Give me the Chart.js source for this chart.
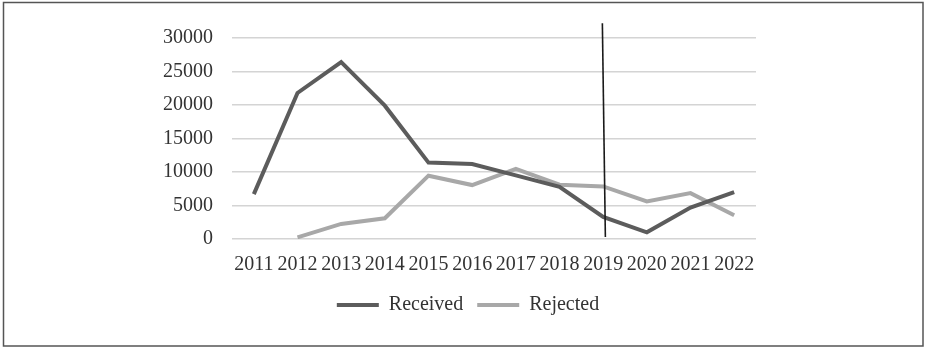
<!DOCTYPE html>
<html>
<head>
<meta charset="utf-8">
<script src="https://cdn.jsdelivr.net/npm/chart.js@4.4.0/dist/chart.umd.min.js"></script>
<style>
  html, body { margin: 0; padding: 0; background: #fff; }
  #wrap { position: absolute; left: 0; top: 0; width: 931px; height: 353px; }
</style>
</head>
<body>
<div id="wrap"><canvas id="c" width="931" height="353"></canvas></div>
<script>
const years = ['2011','2012','2013','2014','2015','2016','2017','2018','2019','2020','2021','2022'];
const received = [6700, 21800, 26400, 19900, 11400, 11200, 9500, 7800, 3300, 1000, 4700, 7000];
const rejected = [null, 250, 2250, 3100, 9450, 8050, 10450, 8100, 7850, 5600, 6850, 3550];
const yTicks = [0, 5000, 10000, 15000, 20000, 25000, 30000];
const markerYear = '2019';
const markerRange = [300, 32200];

const FONT = '"Liberation Serif", "Times New Roman", serif';

const borderPlugin = {
  id: 'frame',
  beforeDraw(chart) {
    const ctx = chart.ctx;
    ctx.save();
    ctx.fillStyle = '#fff';
    ctx.fillRect(0, 0, chart.width, chart.height);
    ctx.strokeStyle = '#555';
    ctx.lineWidth = 1.5;
    ctx.strokeRect(3.5, 2.5, 919.5, 343.5);
    ctx.restore();
  }
};

const legendShift = {
  id: 'legendShift',
  afterLayout(chart) {
    if (chart.legend) { chart.legend.left += 10; chart.legend.right += 10; }
  }
};

const markerPlugin = {
  id: 'marker',
  afterDatasetsDraw(chart) {
    const x = chart.scales.x.getPixelForValue(years.indexOf(markerYear));
    const y = chart.scales.y;
    const ctx = chart.ctx;
    ctx.save();
    ctx.strokeStyle = '#1a1a1a';
    ctx.lineWidth = 1.6;
    ctx.beginPath();
    ctx.moveTo(x - 0.8, y.getPixelForValue(markerRange[1]));
    ctx.lineTo(x + 2.2, y.getPixelForValue(markerRange[0]));
    ctx.stroke();
    ctx.restore();
  }
};

new Chart(document.getElementById('c'), {
  type: 'line',
  data: {
    labels: years,
    datasets: [
      { label: 'Received', data: received, borderColor: '#5c5c5c', backgroundColor: '#5c5c5c',
        borderWidth: 4, pointRadius: 0, tension: 0, spanGaps: false },
      { label: 'Rejected', data: rejected, borderColor: '#a8a8a8', backgroundColor: '#a8a8a8',
        borderWidth: 4, pointRadius: 0, tension: 0, spanGaps: false }
    ]
  },
  options: {
    responsive: false,
    animation: false,
    devicePixelRatio: 1,
    layout: { padding: { left: 160, right: 175, top: 38, bottom: 28 } },
    plugins: {
      tooltip: { enabled: false },
      legend: {
        position: 'bottom',
        labels: {
          font: { family: FONT, size: 20 },
          color: '#333',
          boxWidth: 42,
          boxHeight: 4,
          padding: 14,
          generateLabels(chart) {
            return chart.data.datasets.map((d, i) => ({
              text: d.label, fillStyle: d.borderColor, strokeStyle: d.borderColor,
              lineWidth: 0, hidden: false, datasetIndex: i, fontColor: '#333'
            }));
          }
        }
      }
    },
    scales: {
      x: {
        offset: true,
        afterFit(scale) { scale.height = 42; },
        grid: { display: false, drawTicks: false },
        border: { display: false },
        ticks: { font: { family: FONT, size: 20 }, color: '#333', padding: 13.5, maxRotation: 0, autoSkip: false }
      },
      y: {
        min: 0, max: 30000,
        afterBuildTicks(scale) { scale.ticks = yTicks.map(v => ({ value: v })); },
        afterFit(scale) { scale.width = 72; },
        grid: { color: '#d4d4d4', lineWidth: 1.5, drawTicks: false },
        border: { display: false },
        ticks: { font: { family: FONT, size: 20 }, color: '#333', padding: 19,
                 callback(v) { return String(v); } }
      }
    }
  },
  plugins: [borderPlugin, legendShift, markerPlugin]
});
</script>
</body>
</html>
